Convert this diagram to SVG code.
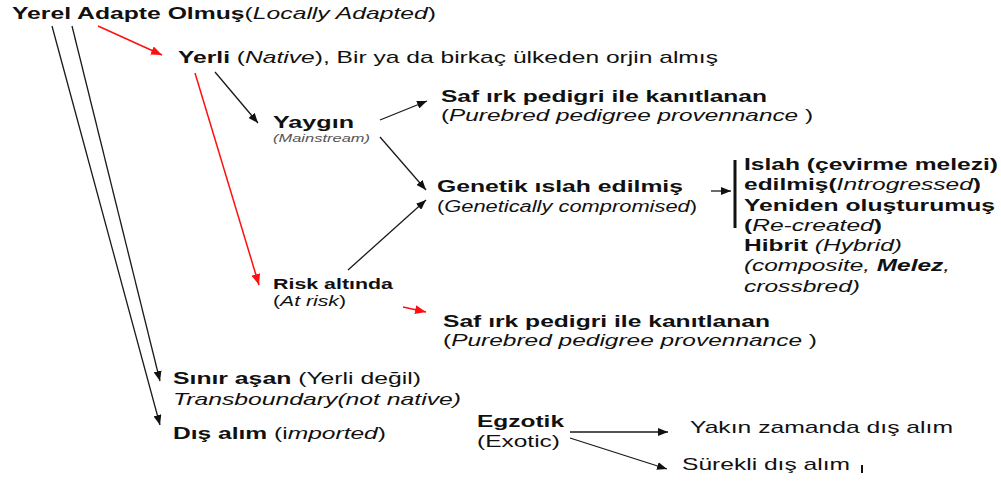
<svg xmlns="http://www.w3.org/2000/svg" width="1001" height="488" viewBox="0 0 1001 488">
<style>
text{font-family:"Liberation Sans",Arial,sans-serif;font-size:17px;fill:#111}
.b{font-weight:bold}
.i{font-style:italic}
.n{font-weight:normal}
.sm{font-size:15px}
.ms{font-size:11.5px;fill:#555}
.k{stroke:#1a1a1a;stroke-width:1.3;fill:none}
.r{stroke:#ff1010;stroke-width:1.5;fill:none}
</style>
<defs>
<marker id="ak" viewBox="0 0 10 8" refX="10" refY="4" markerWidth="10" markerHeight="8" markerUnits="userSpaceOnUse" orient="auto"><path d="M0,0 L10,4 L0,8 z" fill="#111"/></marker>
<marker id="ar" viewBox="0 0 10 8" refX="10" refY="4" markerWidth="11" markerHeight="9" markerUnits="userSpaceOnUse" orient="auto"><path d="M0,0 L10,4 L0,8 z" fill="#ff1010"/></marker>
</defs>
<rect width="1001" height="488" fill="#fff"/>
<g id="connectors">
<line class="r" x1="98" y1="26" x2="162" y2="55" marker-end="url(#ar)"/>
<line class="k" x1="52" y1="26" x2="160" y2="425" marker-end="url(#ak)"/>
<line class="k" x1="72" y1="26" x2="160" y2="381" marker-end="url(#ak)"/>
<line class="k" x1="215" y1="72" x2="258" y2="123" marker-end="url(#ak)"/>
<line class="r" x1="195" y1="73" x2="259" y2="285" marker-end="url(#ar)"/>
<line class="k" x1="380" y1="120" x2="427" y2="101" marker-end="url(#ak)"/>
<line class="k" x1="380" y1="137" x2="426" y2="190" marker-end="url(#ak)"/>
<line class="k" x1="348" y1="270" x2="426" y2="200" marker-end="url(#ak)"/>
<line class="k" x1="711" y1="191" x2="731" y2="191" marker-end="url(#ak)"/>
<line x1="735" y1="160" x2="735" y2="228" stroke="#111" stroke-width="3"/>
<line class="r" x1="403" y1="307" x2="426" y2="312" marker-end="url(#ar)"/>
<line class="k" x1="570" y1="432" x2="668" y2="432" marker-end="url(#ak)"/>
<line class="k" x1="570" y1="438" x2="667" y2="469" marker-end="url(#ak)"/>
<line x1="862" y1="465" x2="862" y2="473" stroke="#111" stroke-width="2"/>
</g>
<g id="yerel"><text x="12" y="19" textLength="424" lengthAdjust="spacingAndGlyphs"><tspan class="b">Yerel Adapte Olmuş</tspan>(<tspan class="i">Locally Adapted</tspan>)</text></g>
<g id="yerli"><text x="178" y="63" textLength="540" lengthAdjust="spacingAndGlyphs"><tspan class="b">Yerli</tspan> (<tspan class="i">Native</tspan>), Bir ya da birkaç ülkeden orjin almış</text></g>
<g id="yaygin">
<text class="b" x="273" y="128" textLength="81" lengthAdjust="spacingAndGlyphs">Yaygın</text>
<text class="ms i" x="273" y="142" textLength="97" lengthAdjust="spacingAndGlyphs">(Mainstream)</text>
</g>
<g id="saf1">
<text class="b" x="441" y="102" textLength="326" lengthAdjust="spacingAndGlyphs">Saf ırk pedigri ile kanıtlanan</text>
<text x="441" y="121" textLength="372" lengthAdjust="spacingAndGlyphs">(<tspan class="i">Purebred pedigree provennance</tspan> )</text>
</g>
<g id="genetik">
<text class="b" x="437" y="192" textLength="246" lengthAdjust="spacingAndGlyphs">Genetik ıslah edilmiş</text>
<text x="437" y="212" style="font-size:16px" textLength="260" lengthAdjust="spacingAndGlyphs">(<tspan class="i">Genetically compromised</tspan>)</text>
</g>
<g id="types">
<text class="b" x="744" y="170" textLength="254" lengthAdjust="spacingAndGlyphs">Islah (çevirme melezi)</text>
<text class="b" x="744" y="190" textLength="237" lengthAdjust="spacingAndGlyphs">edilmiş(<tspan class="i n">Introgressed</tspan>)</text>
<text class="b" x="744" y="211" textLength="251" lengthAdjust="spacingAndGlyphs">Yeniden oluşturumuş</text>
<text class="b" x="744" y="231" textLength="138" lengthAdjust="spacingAndGlyphs">(<tspan class="i n">Re-created</tspan>)</text>
<text x="744" y="251" textLength="158" lengthAdjust="spacingAndGlyphs"><tspan class="b">Hibrit</tspan><tspan class="i"> (Hybrid)</tspan></text>
<text class="i" x="744" y="271" textLength="206" lengthAdjust="spacingAndGlyphs">(composite, <tspan class="b">Melez</tspan>,</text>
<text class="i" x="744" y="292" textLength="116" lengthAdjust="spacingAndGlyphs">crossbred)</text>
</g>
<g id="risk">
<text class="b sm" x="273" y="289" textLength="120" lengthAdjust="spacingAndGlyphs">Risk altında</text>
<text class="sm" x="273" y="306" textLength="73" lengthAdjust="spacingAndGlyphs">(<tspan class="i">At risk</tspan>)</text>
</g>
<g id="saf2">
<text class="b" x="443" y="327" textLength="327" lengthAdjust="spacingAndGlyphs">Saf ırk pedigri ile kanıtlanan</text>
<text x="443" y="346" textLength="374" lengthAdjust="spacingAndGlyphs">(<tspan class="i">Purebred pedigree provennance</tspan> )</text>
</g>
<g id="sinir">
<text x="173" y="384" textLength="248" lengthAdjust="spacingAndGlyphs"><tspan class="b">Sınır aşan</tspan> (Yerli değil)</text>
<text class="i" x="173" y="405" textLength="288" lengthAdjust="spacingAndGlyphs">Transboundary(not native)</text>
</g>
<g id="disalim">
<text x="173" y="439" textLength="213" lengthAdjust="spacingAndGlyphs"><tspan class="b">Dış alım</tspan> (i<tspan class="i">mported</tspan>)</text>
</g>
<g id="egzotik">
<text class="b" x="477" y="427" textLength="87" lengthAdjust="spacingAndGlyphs">Egzotik</text>
<text x="477" y="447" textLength="83" lengthAdjust="spacingAndGlyphs">(Exotic)</text>
</g>
<g id="yakin"><text x="690" y="433" textLength="263" lengthAdjust="spacingAndGlyphs">Yakın zamanda dış alım</text></g>
<g id="surekli"><text x="682" y="470" textLength="168" lengthAdjust="spacingAndGlyphs">Sürekli dış alım</text></g>
</svg>
